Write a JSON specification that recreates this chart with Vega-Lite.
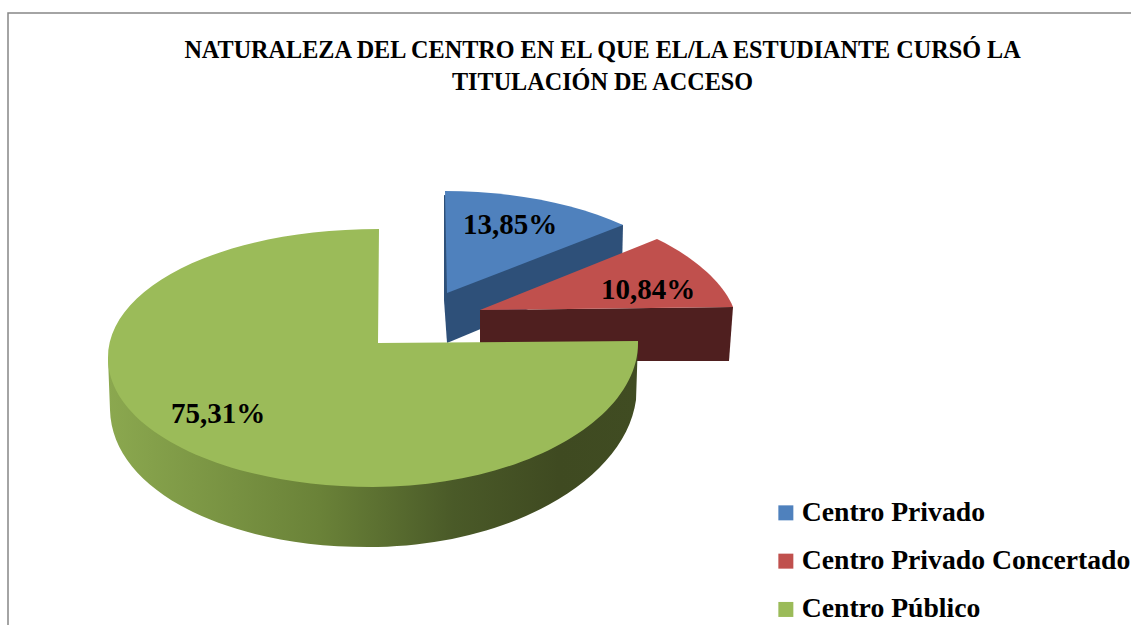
{
"$schema":"https://vega.github.io/schema/vega-lite/v6.json",
"width":1131,"height":625,"autosize":{"type":"none"},"padding":0,"background":"white",
"title":{"text":["NATURALEZA DEL CENTRO EN EL QUE EL/LA ESTUDIANTE CURSÓ LA","TITULACIÓN DE ACCESO"],"font":"Liberation Serif","fontSize":24.2,"fontWeight":"bold","color":"#000000","anchor":"middle","frame":"group","dx":37,"offset":-95,"lineHeight":32,"baseline":"top"},
"config":{"view":{"stroke":null}},
"resolve":{"scale":{"color":"independent"},"legend":{"color":"independent"}},
"data":{"values":[
{"centro":"Centro Privado","porcentaje":13.85,"etiqueta":"13,85%"},
{"centro":"Centro Privado Concertado","porcentaje":10.84,"etiqueta":"10,84%"},
{"centro":"Centro Público","porcentaje":75.31,"etiqueta":"75,31%"}
]},
"layer":[
{"data":{"values":[{"marco":"borde"}]},"mark":{"type":"point","shape":"M-557.5,312.5L-557.5,-299.5L565.5,-299.5","size":4,"filled":false,"stroke":"#868686","strokeWidth":1.5,"opacity":1},"encoding":{}},
{"transform":[{"filter":"datum.centro==='Centro Privado'"}],"mark":{"type":"point","shape":"M-121.5,-117.5L57.5,-87.5L56.5,-42.5L-118.5,30.5L-121.5,-12.5Z","size":4,"filled":true,"fill":"#2e5079","stroke":null,"opacity":1},"encoding":{}},
{"transform":[{"filter":"datum.centro==='Centro Privado Concertado'"}],"mark":{"type":"point","shape":"M-85.5,-2.5L167.5,-5.5L163.5,48.5L-85.5,48.5Z","size":4,"filled":true,"fill":"#4f1f1f","stroke":null,"opacity":1},"encoding":{}},
{"transform":[{"filter":"datum.centro==='Centro Público'"}],"mark":{"type":"point","shape":"M72.5,28.5L70.5,87.5C59.5,167.5 -55.5,234.5 -197.5,234.5C-340.5,234.5 -453.5,177.5 -455.5,97.5L-457.5,45.5Z","size":4,"filled":true,"stroke":null,"opacity":1,"fill":{"gradient":"linear","x1":0,"y1":0,"x2":1,"y2":0,"stops":[{"offset":0,"color":"#8ba84f"},{"offset":0.4,"color":"#6a8238"},{"offset":0.65,"color":"#4a5a28"},{"offset":0.85,"color":"#3f4a21"},{"offset":1,"color":"#404c22"}]}},"encoding":{}},
{"mark":{"type":"point","size":4,"filled":true,"stroke":null,"opacity":1},
"encoding":{
"color":{"field":"centro","type":"nominal","legend":null,"scale":{"domain":["Centro Privado","Centro Privado Concertado","Centro Público"],"range":["#4f81bd","#c0504d","#9bbb59"]}},
"shape":{"field":"centro","type":"nominal","legend":null,"scale":{"domain":["Centro Privado","Centro Privado Concertado","Centro Público"],"range":["M-120.5,-121.5C-55.5,-121.5 9.5,-109.5 57.5,-87.5L-118.5,-19.5Z","M-85.5,-2.5L91.5,-73.5C124.5,-57.5 156.5,-32.5 167.5,-5.5Z","M-187.5,30.5L72.5,28.5C74.5,107.5 -45.5,174.5 -192.5,174.5C-340.5,174.5 -457.5,117.5 -457.5,45.5C-457.5,-27.5 -340.5,-83.5 -186.5,-83.5Z"]}}
}},
{"mark":{"type":"square","size":0,"opacity":1},
"encoding":{
"color":{"field":"centro","type":"nominal","scale":{"domain":["Centro Privado","Centro Privado Concertado","Centro Público"],"range":["#4f81bd","#c0504d","#9bbb59"]},
"legend":{"title":null,"orient":"none","legendX":772,"legendY":499,"symbolType":"square","symbolSize":225,"symbolOpacity":1,"labelFont":"Liberation Serif","labelFontSize":27.7,"labelFontWeight":"bold","labelColor":"#000000","labelLimit":400,"labelOffset":2,"rowPadding":19.3,"symbolStrokeWidth":0}}
}},
{"transform":[{"filter":"datum.centro==='Centro Privado'"}],"mark":{"type":"text","font":"Liberation Serif","fontSize":29,"fontWeight":"bold","color":"#000000","dx":-55.5,"dy":-87.5},"encoding":{"text":{"field":"etiqueta"}}},
{"transform":[{"filter":"datum.centro==='Centro Privado Concertado'"}],"mark":{"type":"text","font":"Liberation Serif","fontSize":29,"fontWeight":"bold","color":"#000000","dx":82.5,"dy":-22.5},"encoding":{"text":{"field":"etiqueta"}}},
{"transform":[{"filter":"datum.centro==='Centro Público'"}],"mark":{"type":"text","font":"Liberation Serif","fontSize":29,"fontWeight":"bold","color":"#000000","dx":-347.5,"dy":101.5},"encoding":{"text":{"field":"etiqueta"}}}
]
}
